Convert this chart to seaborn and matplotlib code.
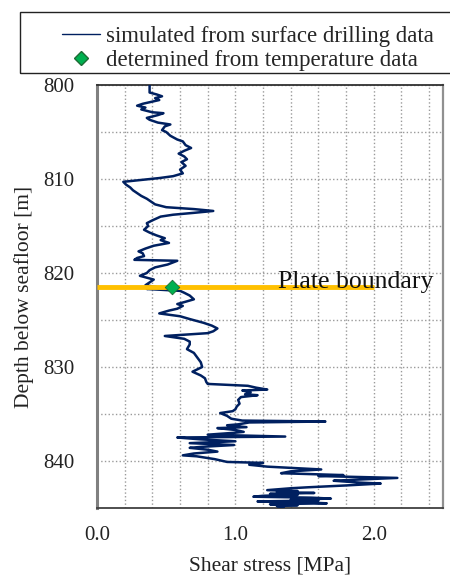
import numpy as np
import pandas as pd
import matplotlib
matplotlib.use("Agg")
import matplotlib.pyplot as plt
from matplotlib.lines import Line2D
from matplotlib.patches import Rectangle
import seaborn as sns

# ---- data ----
depth = [
    800.0, 800.8, 801.0, 801.2, 801.4, 801.6, 802.0, 802.2, 802.4, 802.6,
    802.9, 803.0, 803.2, 803.5, 803.7, 804.0, 804.2, 804.4, 804.8, 805.0,
    805.4, 805.8, 806.0, 806.4, 806.7, 807.0, 807.3, 807.6, 807.9, 808.2,
    808.6, 809.0, 809.4, 809.7, 809.9, 810.1, 810.3, 810.6, 810.9, 811.2,
    811.5, 811.8, 812.1, 812.4, 812.7, 813.0, 813.2, 813.4, 813.6, 813.8,
    814.0, 814.4, 814.7, 815.0, 815.4, 815.7, 816.0, 816.3, 816.5, 816.8,
    817.1, 817.4, 817.7, 817.9, 818.2, 818.4, 818.6, 818.7, 819.1, 819.4,
    819.7, 820.0, 820.3, 820.7, 821.1, 821.3, 821.5, 821.7, 821.9, 822.1,
    822.4, 822.8, 823.1, 823.3, 823.5, 823.8, 824.0, 824.3, 824.6, 824.9,
    825.3, 825.6, 825.9, 826.2, 826.4, 826.7, 827.0, 827.3, 827.6, 828.1,
    828.5, 828.9, 829.5, 830.0, 830.5, 830.9, 831.2, 831.6, 831.8, 832.0,
    832.2, 832.4, 832.5, 832.7, 832.9, 833.0, 833.2, 833.5, 833.9, 834.2,
    834.5, 834.7, 834.9, 835.2, 835.5, 835.7, 835.8, 835.9, 836.1, 836.2,
    836.4, 836.5, 836.7, 836.9, 837.0, 837.2, 837.4, 837.5, 837.7, 837.9,
    838.1, 838.3, 838.5, 838.6, 838.8, 839.0, 839.2, 839.4, 839.5, 839.8,
    840.1, 840.2, 840.4, 840.6, 840.9, 841.1, 841.3, 841.5, 841.6, 841.8,
    842.0, 842.1, 842.3, 842.4, 842.6, 842.8, 842.9, 843.1, 843.2, 843.3,
    843.4, 843.5, 843.6, 843.7, 843.8, 843.9, 844.0, 844.1, 844.2, 844.3,
    844.4, 844.5, 844.6, 844.7, 844.8, 844.9,
]
stress = [
    0.38, 0.38, 0.43, 0.47, 0.42, 0.45, 0.33, 0.29, 0.35, 0.32,
    0.40, 0.48, 0.44, 0.36, 0.38, 0.44, 0.53, 0.49, 0.47, 0.50,
    0.53, 0.58, 0.62, 0.64, 0.68, 0.63, 0.59, 0.63, 0.65, 0.61,
    0.64, 0.60, 0.62, 0.55, 0.45, 0.32, 0.19, 0.21, 0.24, 0.26,
    0.29, 0.32, 0.36, 0.39, 0.42, 0.50, 0.70, 0.84, 0.70, 0.55,
    0.46, 0.40, 0.36, 0.37, 0.34, 0.38, 0.43, 0.49, 0.46, 0.52,
    0.41, 0.35, 0.30, 0.33, 0.34, 0.29, 0.27, 0.58, 0.51, 0.42,
    0.38, 0.36, 0.31, 0.41, 0.37, 0.35, 0.43, 0.36, 0.60, 0.63,
    0.67, 0.70, 0.63, 0.58, 0.62, 0.58, 0.52, 0.45, 0.60, 0.67,
    0.77, 0.83, 0.87, 0.84, 0.80, 0.49, 0.63, 0.67, 0.67, 0.65,
    0.70, 0.72, 0.75, 0.76, 0.69, 0.75, 0.78, 0.79, 0.80, 1.09,
    1.15, 1.23, 1.05, 1.11, 1.07, 1.16, 1.04, 1.02, 1.03, 1.01,
    1.00, 0.98, 0.89, 0.94, 0.97, 1.05, 1.65, 1.10, 1.02, 0.94,
    1.08, 0.87, 1.00, 1.06, 0.99, 0.80, 1.36, 0.58, 0.75, 1.00,
    0.67, 0.99, 0.75, 0.67, 0.80, 0.87, 0.70, 0.62, 0.72, 0.85,
    0.94, 1.20, 1.10, 1.23, 1.62, 1.40, 1.33, 1.78, 1.60, 2.17,
    1.85, 1.71, 1.90, 2.05, 1.80, 1.52, 1.40, 1.23, 1.45, 1.30,
    1.57, 1.25, 1.45, 1.20, 1.13, 1.55, 1.69, 1.40, 1.60, 1.16,
    1.50, 1.66, 1.25, 1.45, 1.30, 1.35,
]
temp_stress = [0.54]
temp_depth = [821.5]
boundary_depth = 821.5
boundary_xmax = 2.0
x_ticks = [0.0, 1.0, 2.0]
x_tick_labels = ["0.0", "1.0", "2.0"]
y_ticks = [800, 810, 820, 830, 840]
y_tick_labels = ["800", "810", "820", "830", "840"]
legend_labels = ["simulated from surface drilling data",
                 "determined from temperature data"]

# ---- style ----
sns.set_theme(style="white")
plt.rcParams["font.family"] = ["Liberation Serif", "DejaVu Serif"]

W, H = 450, 583
fig = plt.figure(figsize=(W / 100, H / 100), dpi=100)
ax = fig.add_axes([97 / W, 75 / H, 346 / W, 423 / H])

LINE_C = "#002060"
df = pd.DataFrame({"stress": stress, "depth": depth})
sns.lineplot(data=df, x="stress", y="depth", sort=False, estimator=None,
             color=LINE_C, lw=1.8, ax=ax, zorder=3)

ax.plot([0, boundary_xmax], [boundary_depth, boundary_depth],
        color="#FFC000", lw=3.5, zorder=4, solid_capstyle="butt")
sns.scatterplot(x=temp_stress, y=temp_depth, marker="D", s=55,
                color="#00B050", edgecolor="#1E6B35", linewidth=0.6,
                ax=ax, zorder=5)

ax.text(2.43, 820.95, "Plate boundary", ha="right", va="center",
        fontsize=18.5, color="#111111", zorder=6)

ax.set_xlim(0, 2.5)
ax.set_ylim(845, 800)
ax.set_xticks(x_ticks)
ax.set_xticklabels(x_tick_labels)
ax.set_xticks(np.arange(0.2, 2.5, 0.2), minor=True)
ax.set_yticks(y_ticks)
ax.set_yticklabels(y_tick_labels)
ax.set_yticks([805, 815, 825, 835], minor=True)
ax.grid(True, which="both", color="#9a9a9a", ls=":", lw=1.0, zorder=0)
ax.set_axisbelow(True)
ax.tick_params(which="both", length=0, labelsize=15, colors="#222222")
ax.tick_params(axis="x", pad=13)
ax.tick_params(axis="y", pad=16)

ax.set_xlabel("Shear stress [MPa]", fontsize=15.5, color="#222222")
ax.set_ylabel("Depth below seafloor [m]", fontsize=15.5, color="#222222")
ax.xaxis.set_label_coords(0.5, (508 - 557) / 423)
ax.yaxis.set_label_coords((34 - 97) / 346, 0.5)

for side, c, w in [("left", "#808080", 2.2), ("bottom", "#404040", 1.3),
                   ("right", "#909090", 1.6), ("top", "#303030", 1.3)]:
    ax.spines[side].set_visible(True)
    ax.spines[side].set_color(c)
    ax.spines[side].set_linewidth(w)

handles = [Line2D([0], [0], color=LINE_C, lw=1.0),
           Line2D([0], [0], marker="D", ls="none", markersize=7,
                  markerfacecolor="#00B050", markeredgecolor="#1E6B35")]
fig.legend(handles, legend_labels, loc="upper left",
           bbox_to_anchor=(62 / W, 1 - 26 / H), frameon=False,
           fontsize=16.5, handlelength=1.65, handletextpad=0.25,
           borderpad=0, borderaxespad=0, labelspacing=0.12)
fig.patches.append(Rectangle((20 / W, 1 - 73 / H), 440 / W, 61 / H,
                             fill=False, edgecolor="#222222", lw=1.0,
                             transform=fig.transFigure, clip_on=False))

fig.savefig("out.png", dpi=100, facecolor="white")
